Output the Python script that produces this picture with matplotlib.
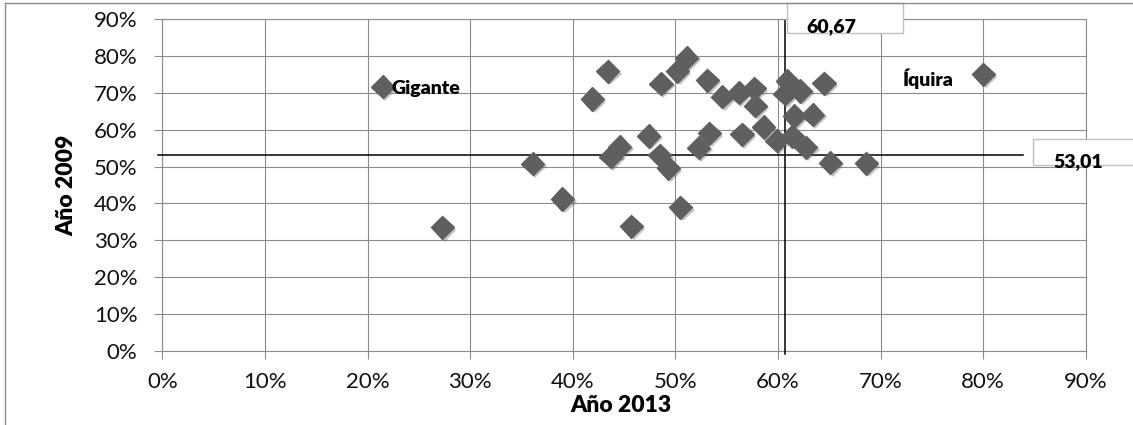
import matplotlib
matplotlib.use("Agg")
import matplotlib.pyplot as plt
import matplotlib.patheffects as pe
from matplotlib.lines import Line2D
from matplotlib.patches import Rectangle
from matplotlib.ticker import PercentFormatter

# valores en %: eje x = Año 2013, eje y = Año 2009
anio_2013 = [21.5, 27.3, 36.1, 39.0, 41.9, 43.4, 43.7, 44.6, 45.7, 47.4,
             48.6, 48.5, 49.3, 50.2, 51.1, 50.5, 52.3, 53.3, 53.1, 54.6,
             56.2, 57.7, 57.8, 56.5, 58.6, 59.9, 60.9, 60.7, 62.2, 64.5,
             61.6, 63.4, 61.4, 62.7, 65.1, 68.6, 80.0]
anio_2009 = [71.7, 33.5, 50.8, 41.2, 68.3, 75.8, 52.7, 55.4, 33.8, 58.3,
             72.5, 53.0, 49.6, 75.8, 79.5, 39.0, 55.1, 59.0, 73.4, 68.9,
             70.0, 71.2, 66.5, 58.7, 60.7, 57.0, 73.2, 69.8, 70.5, 72.6,
             63.7, 64.1, 58.2, 55.2, 51.0, 50.9, 75.0]
etiquetas = {0: "Gigante", 36: "Íquira"}
media_2013 = 60.67
media_2009 = 53.01
ticks = list(range(0, 91, 10))

plt.rcParams['font.family'] = ['Lato', 'DejaVu Sans']
negrita = 'heavy'

W, H = 1133, 425
fig = plt.figure(figsize=(W / 100, H / 100), dpi=100)
ax = fig.add_axes([162.3 / W, 74 / H, 923.4 / W, 332 / H])

gris = '#8c8c8c'
ax.set_xlim(0, 90)
ax.set_ylim(0, 90)
ax.set_xticks(ticks)
ax.set_yticks(ticks)
ax.xaxis.set_major_formatter(PercentFormatter(decimals=0))
ax.yaxis.set_major_formatter(PercentFormatter(decimals=0))
ax.grid(True, color=gris, lw=0.8)
ax.set_axisbelow(True)
for s in ax.spines.values():
    s.set_color(gris)
    s.set_linewidth(0.8)
ax.tick_params(axis='both', direction='out', length=5.8, width=0.8, color=gris,
               labelsize=16, labelcolor='#111111')
ax.tick_params(axis='y', pad=12)
ax.tick_params(axis='x', pad=9.5)

# lineas de las medias
ax.plot([-0.4, 83.9], [media_2009, media_2009], color='black', lw=1.1,
        clip_on=False, zorder=3)
ax.plot([media_2013, media_2013], [-0.8, 89.5], color='black', lw=1.1,
        clip_on=False, zorder=3)

ax.plot(anio_2013, anio_2009, linestyle='none', marker='D', ms=11.8,
        color='#5f5f5f', mec='#5f5f5f', zorder=4, clip_on=False,
        path_effects=[pe.SimplePatchShadow(offset=(1.8, -1.8), shadow_rgbFace='#555555',
                                           alpha=0.35), pe.Normal()])

for i, txt in etiquetas.items():
    if txt == "Gigante":
        ax.annotate(txt, (anio_2013[i], anio_2009[i]), xytext=(6.5, -1.5),
                    textcoords='offset points', ha='left', va='center',
                    fontsize=14, fontweight=negrita, zorder=5)
    else:
        ax.annotate(txt, (anio_2013[i], anio_2009[i]), xytext=(-21, -3),
                    textcoords='offset points', ha='right', va='center',
                    fontsize=14, fontweight=negrita, zorder=5)

# borde exterior del grafico
fig.add_artist(Line2D([5 / W, 5 / W], [0, 1 - 3.3 / H], transform=fig.transFigure,
                      color=gris, lw=1))
fig.add_artist(Line2D([5 / W, 1], [1 - 3.3 / H, 1 - 3.3 / H], transform=fig.transFigure,
                      color=gris, lw=1))

# cajas con los valores de las medias
def caja(x0, y0, x1, y1, tx, ty, texto):
    fig.add_artist(Rectangle((x0 / W, 1 - y1 / H), (x1 - x0) / W, (y1 - y0) / H,
                             transform=fig.transFigure, fc='white', ec='#c0c0c0', lw=1))
    fig.text(tx / W, 1 - ty / H, texto, ha='left', va='center', fontsize=14,
             fontweight=negrita)

caja(786.7, 3.3, 902.7, 33.3, 806.7, 26.7, f"{media_2013:.2f}".replace('.', ','))
caja(1033, 139, 1140, 165, 1053, 162, f"{media_2009:.2f}".replace('.', ','))

fig.text(621 / W, 1 - 406 / H, 'Año 2013', ha='center', va='center', fontsize=16.5,
         fontweight=negrita)
fig.text(67 / W, 1 - 185 / H, 'Año 2009', ha='center', va='center', fontsize=16.5,
         fontweight=negrita, rotation=90)

fig.savefig('out.png', dpi=100)
